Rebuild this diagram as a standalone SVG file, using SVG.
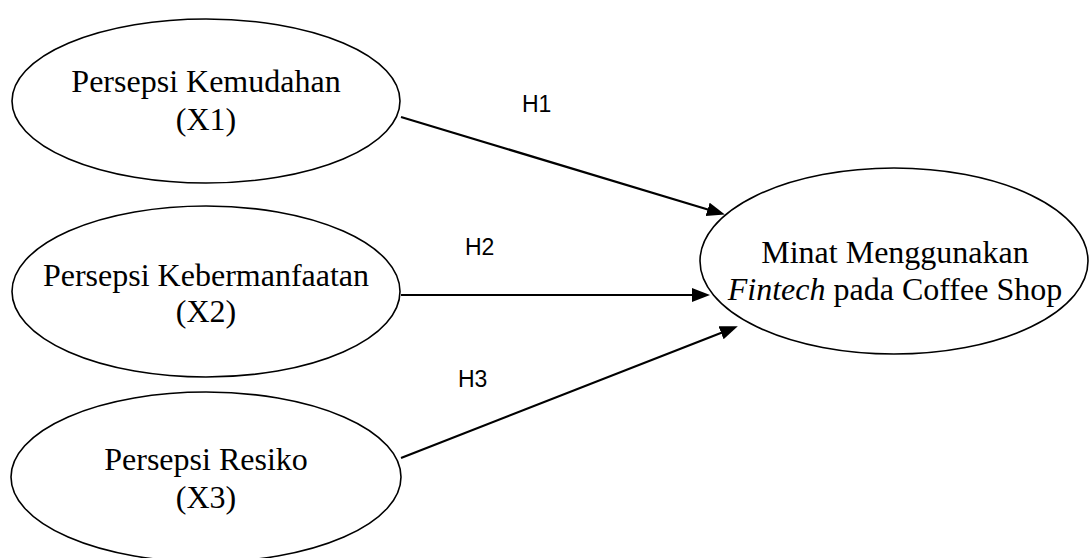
<svg xmlns="http://www.w3.org/2000/svg" width="1091" height="558" viewBox="0 0 1091 558">
<style>
.node ellipse{fill:#fff;stroke:#000;stroke-width:1.6}
.node text{font-family:"Liberation Serif","Times New Roman",serif;font-size:32px;fill:#000;text-anchor:middle}
.conn line{stroke:#000;stroke-width:2.2}
.lbl{font-family:"Liberation Sans",Arial,sans-serif;font-size:23px;fill:#000}
</style>
<defs>
<marker id="ah" markerUnits="userSpaceOnUse" markerWidth="20" markerHeight="16" refX="8" refY="7" orient="auto">
<path d="M0,0 L18,7 L0,14 z" fill="#000"/>
</marker>
</defs>
<rect width="1091" height="558" fill="#fff"/>
<g id="x1" class="node">
<ellipse cx="206" cy="101" rx="194" ry="82"/>
<text x="206" y="92">Persepsi Kemudahan</text>
<text x="206" y="130">(X1)</text>
</g>
<g id="x2" class="node">
<ellipse cx="206" cy="291.5" rx="194" ry="85.5"/>
<text x="206" y="286">Persepsi Kebermanfaatan</text>
<text x="206" y="322">(X2)</text>
</g>
<g id="x3" class="node">
<ellipse cx="206" cy="477" rx="195" ry="85"/>
<text x="206" y="470">Persepsi Resiko</text>
<text x="206" y="508">(X3)</text>
</g>
<g id="y" class="node">
<ellipse cx="894" cy="261" rx="194" ry="93"/>
<text x="895" y="263">Minat Menggunakan</text>
<text x="895" y="300"><tspan font-style="italic">Fintech</tspan> pada Coffee Shop</text>
</g>
<g id="connectors" class="conn">
<line x1="401" y1="117" x2="715.3" y2="211.7" marker-end="url(#ah)"/>
<line x1="401" y1="295" x2="700" y2="295" marker-end="url(#ah)"/>
<line x1="401" y1="458" x2="728.5" y2="329.9" marker-end="url(#ah)"/>
</g>
<g id="labels">
<text class="lbl" x="522" y="112">H1</text>
<text class="lbl" x="465" y="255">H2</text>
<text class="lbl" x="458" y="387">H3</text>
</g>
</svg>
